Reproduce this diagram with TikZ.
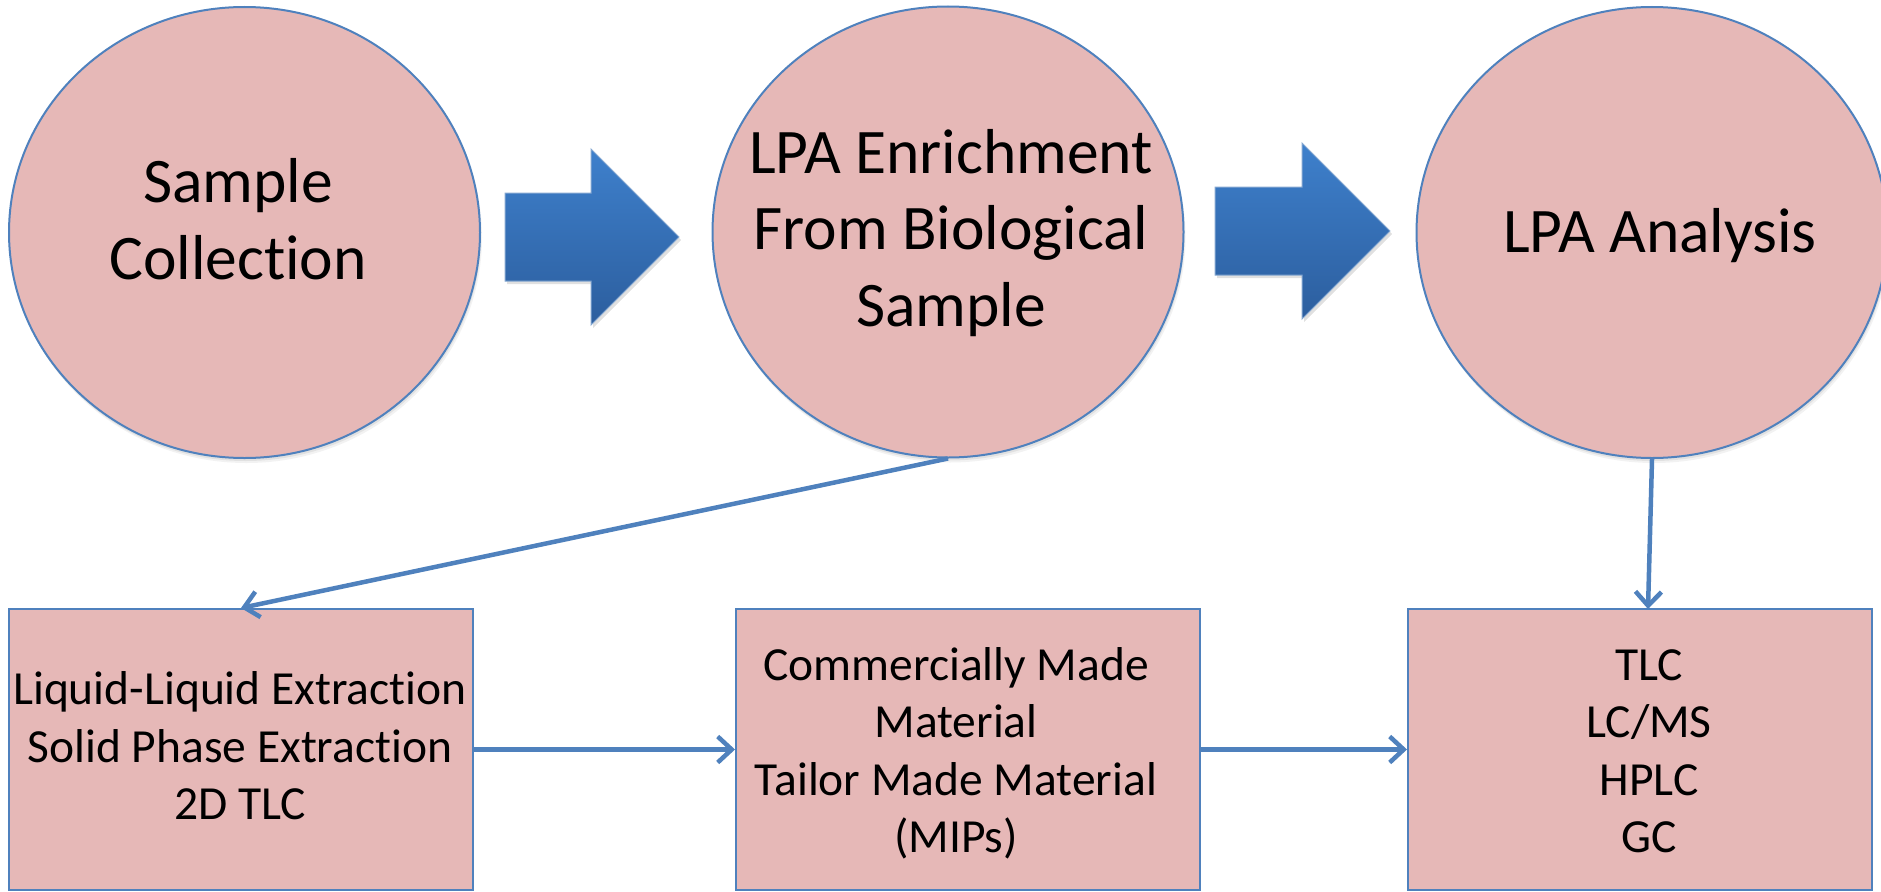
\documentclass[tikz,border=0pt]{standalone}
\usepackage{fontspec}
\setmainfont{Carlito}[Ligatures={NoCommon}]
\usetikzlibrary{shapes.geometric,arrows.meta,shadows}

\definecolor{pinkfill}{HTML}{E6B8B7}
\definecolor{edgeblue}{HTML}{4F81BD}
\definecolor{arrtop}{RGB}{62,128,204}
\definecolor{arrbot}{RGB}{44,94,158}

\tikzset{
  softshadow/.style={
    general shadow={fill=black, opacity=0.07, shadow xshift=1pt, shadow yshift=-3pt},
    general shadow={fill=black, opacity=0.05, shadow xshift=2pt, shadow yshift=-5pt}},
  stage/.style={ellipse, draw=edgeblue, line width=2pt, fill=pinkfill,
    minimum width=471pt, minimum height=451pt, inner sep=0pt, softshadow},
  methodbox/.style={rectangle, draw=edgeblue, line width=2pt, fill=pinkfill,
    minimum width=464pt, minimum height=281pt, inner sep=0pt},
  bigtext/.style={font=\fontsize{63.5}{76.5}\selectfont, align=center, inner sep=0pt},
  smalltext/.style={font=\fontsize{47.5}{57.5}\selectfont, align=center, inner sep=0pt},
  link/.style={draw=edgeblue, line width=4.5pt,
    -{Straight Barb[length=14pt,width=26pt,line width=4.5pt]}},
  blockarrow/.style={top color=arrtop, bottom color=arrbot,
    draw=edgeblue!70!white, line width=1pt,
    general shadow={fill=black, opacity=0.12, shadow xshift=2pt, shadow yshift=-3pt}}
}

\begin{document}
\begin{tikzpicture}[x=1pt, y=-1pt]
  \useasboundingbox (0,0) rectangle (1881,891);

  % three stages
  \node[stage] (c1) at (244.5,232.5) {};
  \node[stage] (c2) at (948,232) {};
  \node[stage] (c3) at (1652,232.5) {};

  \node[bigtext] (c1t) at (238,219) {Sample\\Collection};
  \node[bigtext] (c2t) at (951,233) {LPA Enrichment\\From Biological\\Sample};
  \node[bigtext] (c3t) at (1660,236) {LPA Analysis};

  % block arrows between the stages
  \path[blockarrow] (505,193) -- (591,193) -- (591,149) -- (679,237)
    -- (591,325) -- (591,281) -- (505,281) -- cycle;
  \path[blockarrow] (1215,187) -- (1302,187) -- (1302,143) -- (1390,231)
    -- (1302,319) -- (1302,275) -- (1215,275) -- cycle;

  % method boxes
  \node[methodbox] (b1) at (241,749.5) {};
  \node[methodbox] (b2) at (968,749.5) {};
  \node[methodbox] (b3) at (1640,749.5) {};

  \node[smalltext] (b1t) at (240,746) {Liquid-Liquid Extraction\\Solid Phase Extraction\\2D TLC};
  \node[smalltext] (b2t) at (956,753.5) {Commercially Made\\Material\\Tailor Made Material\\(MIPs)};
  \node[smalltext] (b3t) at (1649,751) {TLC\\LC/MS\\HPLC\\GC};

  % connectors
  \coordinate (b3in) at (1648,609);
  \draw[link] (c2.south) -- (b1.north);
  \draw[link] (b1.east) -- (b2.west);
  \draw[link] (b2.east) -- (b3.west);
  \draw[link] (c3.south) -- (b3in);
\end{tikzpicture}
\end{document}
